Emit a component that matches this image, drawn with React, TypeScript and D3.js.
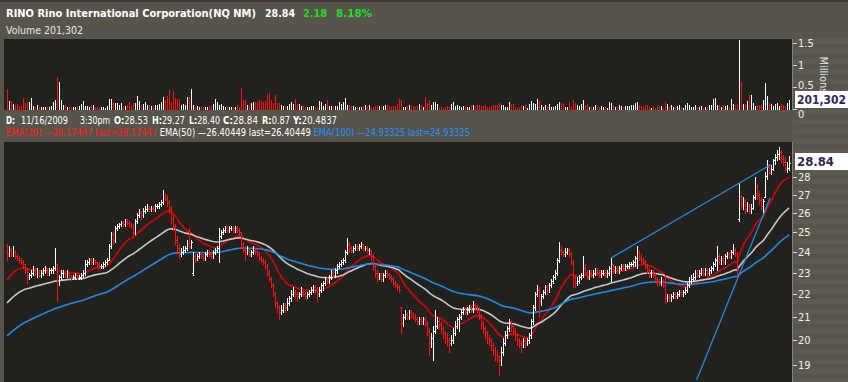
import React from 'react';
import * as d3 from 'd3';

// ---------------- DATA (30-minute bars) ----------------
// each line after the first = one trading day (13 bars)
const opens = [
  24.0, 23.9,
  24.1,23.9,24.0,23.8,23.7,23.6,23.5,23.4,23.1,22.8,22.9,23.0,23.1,
  23.0,23.0,22.9,23.0,23.1,23.2,23.0,23.1,23.1,23.2,23.4,22.6,22.8,
  23.0,23.0,22.9,23.0,22.9,22.8,22.8,22.9,22.8,22.8,22.9,23.0,23.4,
  23.5,23.6,23.5,23.6,23.5,23.4,23.3,23.3,23.4,23.5,23.6,24.3,24.9,
  24.6,25.2,25.3,25.4,25.5,25.4,25.6,25.5,25.4,25.3,25.0,25.6,25.9,
  26.0,25.9,26.1,26.2,26.3,26.2,26.3,26.2,26.4,26.4,26.5,26.6,26.9,
  26.8,26.6,26.2,25.7,25.3,24.6,24.2,23.9,24.0,24.1,24.2,24.4,24.3,
  23.0,23.8,23.7,23.8,23.9,23.8,23.7,23.9,24.0,23.9,23.8,24.0,24.1,
  24.2,24.8,25.0,25.1,25.2,25.1,25.2,25.2,25.1,25.2,25.1,25.0,24.4,
  24.1,24.0,24.1,23.9,24.0,24.1,24.0,23.9,23.7,23.6,23.5,23.3,23.0,
  22.7,22.4,22.0,21.6,21.4,21.2,21.3,21.5,21.4,21.6,21.8,22.0,22.1,
  22.0,21.9,22.0,22.1,22.0,21.9,22.0,22.1,22.2,22.3,22.2,22.0,22.2,
  22.4,22.5,22.7,22.6,22.8,23.0,22.9,23.1,23.3,23.4,23.5,23.6,24.0,
  24.4,24.2,24.1,24.2,24.3,24.2,24.3,24.4,24.2,24.2,24.1,24.1,23.8,
  23.3,23.0,22.8,22.9,22.7,22.9,23.0,22.9,22.8,22.7,22.5,22.4,22.3,
  21.4,20.7,21.0,21.1,21.0,21.2,21.1,21.0,20.9,20.8,20.9,20.8,20.9,
  20.7,20.4,19.9,20.1,20.4,20.6,20.8,20.7,20.5,20.3,20.1,20.0,19.9,
  20.0,20.3,20.6,20.9,21.0,21.2,21.3,21.2,21.3,21.4,21.3,21.5,21.4,
  21.3,21.0,20.7,20.5,20.3,20.1,20.0,19.8,19.6,19.4,19.3,19.2,19.5,
  19.9,20.2,20.5,20.7,20.6,20.4,20.2,20.0,19.9,19.8,20.0,19.9,20.0,
  20.2,20.8,21.4,22.0,22.2,21.7,21.9,22.1,22.3,22.2,22.4,22.6,22.8,
  23.0,23.6,24.1,24.0,23.9,24.0,24.1,23.9,23.5,22.8,22.5,22.6,22.8,
  22.9,23.2,23.0,22.8,23.0,22.9,23.0,23.1,23.0,22.9,23.0,23.0,22.9,
  23.0,23.2,23.4,23.1,23.2,23.1,23.2,23.3,23.2,23.3,23.3,23.4,23.4,
  23.5,23.7,24.0,23.7,23.6,23.5,23.3,23.1,22.9,23.0,22.9,22.7,22.6,
  22.5,22.6,22.4,21.8,21.9,21.8,21.9,22.0,21.9,22.0,22.1,22.0,22.1,
  22.2,22.4,22.6,22.7,22.8,23.0,22.9,23.0,23.1,23.0,23.1,23.0,23.1,
  23.2,23.4,23.6,23.8,23.6,23.7,23.5,23.8,23.9,23.8,24.0,24.1,23.9,
  25.7,26.9,26.5,26.7,26.2,26.4,26.1,26.3,26.9,27.5,27.0,26.7,26.4,
  26.9,28.1,28.6,28.3,28.5,29.0,29.2,29.4,29.5,29.1,28.9,28.5,28.53,
];

const highs = [
  24.4, 24.3,
  24.2,24.3,24.1,23.9,23.8,23.7,23.6,23.4,23.2,23.0,23.1,23.3,23.2,
  23.2,23.1,23.1,23.2,23.3,23.2,23.2,23.2,23.3,24.2,23.4,22.9,23.1,
  23.1,23.0,23.1,23.0,22.9,22.9,23.0,22.9,22.9,23.0,23.1,23.6,23.6,
  23.7,23.7,23.7,23.6,23.5,23.5,23.4,23.5,23.6,23.7,24.4,25.0,25.0,
  25.3,25.4,25.5,25.6,25.6,25.7,25.7,25.6,25.5,25.4,25.7,26.0,26.2,
  26.1,26.3,26.4,26.5,26.4,26.4,26.4,26.5,26.5,26.6,26.7,27.3,27.1,
  27.0,26.7,26.4,25.9,25.4,24.8,24.4,24.2,24.3,24.3,24.6,25.2,24.6,
  24.0,23.9,23.9,24.0,24.0,23.9,24.0,24.1,24.1,24.0,24.1,24.2,24.3,
  25.2,25.1,25.2,25.3,25.3,25.3,25.3,25.3,25.3,25.3,25.2,25.0,24.5,
  24.3,24.3,24.2,24.1,24.3,24.2,24.1,24.0,23.8,23.7,23.6,23.4,23.1,
  22.8,22.5,22.1,21.7,21.5,21.5,21.6,21.6,21.8,21.9,22.2,22.3,22.2,
  22.1,22.1,22.3,22.2,22.1,22.1,22.2,22.3,22.4,22.4,22.3,22.3,22.5,
  22.6,22.8,22.8,22.9,23.1,23.1,23.2,23.4,23.5,23.6,23.7,24.1,24.7,
  24.5,24.3,24.3,24.4,24.4,24.4,24.5,24.4,24.3,24.3,24.2,24.1,23.9,
  23.4,23.1,23.0,23.0,23.0,23.1,23.1,23.0,22.9,22.8,22.6,22.5,22.4,
  21.4,21.1,21.3,21.2,21.3,21.3,21.2,21.1,21.0,21.0,21.0,21.0,21.0,
  20.8,20.5,20.3,20.6,21.3,21.0,20.9,20.8,20.6,20.4,20.3,20.1,20.2,
  20.5,20.8,21.0,21.1,21.3,21.4,21.4,21.4,21.5,21.5,21.7,21.6,21.5,
  21.4,21.1,20.8,20.6,20.4,20.2,20.1,19.9,19.7,19.6,19.4,19.7,20.1,
  20.4,20.6,20.9,20.8,20.7,20.5,20.3,20.1,20.0,20.1,20.1,20.1,20.3,
  20.9,21.5,22.1,22.4,22.3,22.0,22.2,22.4,22.4,22.5,22.7,22.9,23.1,
  23.7,24.5,24.3,24.1,24.2,24.2,24.2,24.0,23.6,22.9,22.8,22.9,23.0,
  23.8,23.4,23.1,23.1,23.1,23.1,23.2,23.2,23.1,23.1,23.1,23.1,23.1,
  23.3,23.7,23.4,23.3,23.3,23.3,23.4,23.4,23.4,23.4,23.5,23.5,23.6,
  23.8,24.3,24.1,23.9,23.7,23.6,23.4,23.2,23.1,23.1,23.0,22.8,22.7,
  22.8,22.7,22.9,22.0,22.0,22.0,22.1,22.1,22.1,22.2,22.2,22.2,22.3,
  22.5,22.8,22.9,23.0,23.1,23.1,23.1,23.2,23.2,23.2,23.2,23.2,23.3,
  23.5,23.7,24.3,23.9,23.8,23.8,23.9,24.0,24.0,24.1,24.4,24.2,24.0,
  27.7,27.0,26.9,26.8,26.6,26.5,26.5,27.0,28.0,27.6,27.2,26.9,26.8,
  28.3,29.0,28.8,28.7,29.1,29.4,29.6,29.8,29.6,29.3,29.2,28.9,29.27,
];

const lows = [
  23.6, 23.8,
  23.8,23.8,23.7,23.6,23.5,23.4,23.2,23.0,22.5,22.7,22.8,22.9,22.9,
  22.8,22.8,22.8,22.9,23.0,22.9,22.9,23.0,23.0,23.1,21.7,22.4,22.7,
  22.8,22.8,22.8,22.8,22.7,22.7,22.7,22.7,22.7,22.7,22.8,22.9,23.3,
  23.4,23.4,23.4,23.4,23.3,23.2,23.2,23.2,23.3,23.4,23.6,24.2,24.4,
  24.5,25.1,25.2,25.3,25.3,25.3,25.4,25.3,25.2,24.8,24.9,25.5,25.8,
  25.7,25.8,26.0,26.1,26.1,26.1,26.1,26.1,26.3,26.3,26.4,26.5,26.7,
  26.4,26.0,25.5,25.1,24.4,24.0,23.7,23.8,23.9,24.0,24.1,24.2,24.2,
  22.9,23.5,23.6,23.7,23.7,23.6,23.6,23.8,23.8,23.7,23.7,23.9,24.0,
  23.5,24.7,24.9,25.0,25.0,25.0,25.1,25.0,25.0,25.0,24.9,24.2,24.0,
  23.6,23.9,23.8,23.8,23.9,23.9,23.8,23.6,23.5,23.4,23.2,22.9,22.6,
  22.3,21.9,21.4,21.2,20.9,21.1,21.2,21.2,21.3,21.5,21.7,21.9,21.8,
  21.7,21.8,21.9,21.9,21.8,21.8,21.9,22.0,22.1,22.1,21.7,21.9,22.1,
  22.2,22.4,22.5,22.5,22.7,22.8,22.8,23.0,23.2,23.3,23.4,23.5,23.9,
  24.0,24.0,24.0,24.1,24.1,24.1,24.2,24.1,24.1,24.0,23.9,23.6,23.1,
  22.8,22.6,22.7,22.6,22.6,22.8,22.8,22.7,22.6,22.4,22.3,22.2,22.1,
  20.3,20.6,20.9,20.9,20.9,21.0,20.9,20.8,20.7,20.7,20.7,20.7,20.6,
  20.2,19.4,19.7,19.2,20.3,20.5,20.5,20.3,20.1,19.9,19.8,19.5,19.8,
  19.9,20.2,20.5,20.4,20.9,21.1,21.1,21.1,21.2,21.2,21.2,21.3,21.2,
  20.9,20.5,20.3,20.1,19.9,19.8,19.6,19.4,19.2,19.1,18.6,19.0,19.4,
  19.8,20.1,20.4,20.4,20.2,20.0,19.8,19.7,19.5,19.7,19.7,19.8,19.9,
  20.1,20.7,21.3,21.9,21.0,21.5,21.8,22.0,22.0,22.1,22.3,22.5,22.7,
  22.9,23.5,23.9,23.8,23.8,23.9,23.8,23.4,22.3,22.3,22.4,22.5,22.7,
  22.8,22.9,22.7,22.7,22.8,22.8,22.9,22.9,22.8,22.8,22.9,22.8,22.8,
  22.9,22.6,23.0,23.0,23.0,23.0,23.1,23.1,23.1,23.2,23.2,23.3,23.3,
  23.3,23.2,23.6,23.5,23.4,23.2,23.0,22.8,22.8,22.8,22.6,22.4,22.4,
  22.4,22.3,21.6,21.7,21.7,21.7,21.8,21.8,21.8,21.9,21.9,21.9,22.0,
  22.1,22.3,22.5,22.6,22.7,22.8,22.8,22.9,22.9,22.9,22.9,22.9,23.0,
  23.1,23.3,23.1,23.4,23.4,23.4,23.4,23.7,23.7,23.7,23.9,23.8,22.9,
  25.6,26.3,26.2,26.0,26.1,26.0,26.0,26.2,26.8,26.8,26.5,26.2,26.0,
  26.9,27.9,28.2,28.2,28.4,28.8,29.0,29.1,28.9,28.7,28.4,28.3,28.40,
];

const closes = [
  23.9, 24.1,
  23.9,24.0,23.8,23.7,23.6,23.5,23.4,23.1,22.8,22.9,23.0,23.1,23.0,
  23.0,22.9,23.0,23.1,23.2,23.0,23.1,23.1,23.2,23.4,22.6,22.8,23.0,
  23.0,22.9,23.0,22.9,22.8,22.8,22.9,22.8,22.8,22.9,23.0,23.4,23.5,
  23.6,23.5,23.6,23.5,23.4,23.3,23.3,23.4,23.5,23.6,24.3,24.9,24.6,
  25.2,25.3,25.4,25.5,25.4,25.6,25.5,25.4,25.3,25.0,25.6,25.9,26.0,
  25.9,26.1,26.2,26.3,26.2,26.3,26.2,26.4,26.4,26.5,26.6,26.9,26.8,
  26.6,26.2,25.7,25.3,24.6,24.2,23.9,24.0,24.1,24.2,24.4,24.3,24.5,
  23.8,23.7,23.8,23.9,23.8,23.7,23.9,24.0,23.9,23.8,24.0,24.1,24.2,
  24.8,25.0,25.1,25.2,25.1,25.2,25.2,25.1,25.2,25.1,25.0,24.4,24.1,
  24.0,24.1,23.9,24.0,24.1,24.0,23.9,23.7,23.6,23.5,23.3,23.0,22.7,
  22.4,22.0,21.6,21.4,21.2,21.3,21.5,21.4,21.6,21.8,22.0,22.1,22.0,
  21.9,22.0,22.1,22.0,21.9,22.0,22.1,22.2,22.3,22.2,22.0,22.2,22.4,
  22.5,22.7,22.6,22.8,23.0,22.9,23.1,23.3,23.4,23.5,23.6,24.0,24.4,
  24.2,24.1,24.2,24.3,24.2,24.3,24.4,24.2,24.2,24.1,24.1,23.8,23.3,
  23.0,22.8,22.9,22.7,22.9,23.0,22.9,22.8,22.7,22.5,22.4,22.3,22.2,
  20.7,21.0,21.1,21.0,21.2,21.1,21.0,20.9,20.8,20.9,20.8,20.9,20.7,
  20.4,19.9,20.1,20.4,20.6,20.8,20.7,20.5,20.3,20.1,20.0,19.9,20.0,
  20.3,20.6,20.9,21.0,21.2,21.3,21.2,21.3,21.4,21.3,21.5,21.4,21.3,
  21.0,20.7,20.5,20.3,20.1,20.0,19.8,19.6,19.4,19.3,19.2,19.5,19.9,
  20.2,20.5,20.7,20.6,20.4,20.2,20.0,19.9,19.8,20.0,19.9,20.0,20.2,
  20.8,21.4,22.0,22.2,21.7,21.9,22.1,22.3,22.2,22.4,22.6,22.8,23.0,
  23.6,24.1,24.0,23.9,24.0,24.1,23.9,23.5,22.8,22.5,22.6,22.8,22.9,
  23.2,23.0,22.8,23.0,22.9,23.0,23.1,23.0,22.9,23.0,23.0,22.9,23.0,
  23.2,23.4,23.1,23.2,23.1,23.2,23.3,23.2,23.3,23.3,23.4,23.4,23.5,
  23.7,24.0,23.7,23.6,23.5,23.3,23.1,22.9,23.0,22.9,22.7,22.6,22.5,
  22.6,22.4,21.8,21.9,21.8,21.9,22.0,21.9,22.0,22.1,22.0,22.1,22.2,
  22.4,22.6,22.7,22.8,23.0,22.9,23.0,23.1,23.0,23.1,23.0,23.1,23.2,
  23.4,23.6,23.8,23.6,23.7,23.5,23.8,23.9,23.8,24.0,24.1,23.9,23.1,
  26.9,26.5,26.7,26.2,26.4,26.1,26.3,26.9,27.5,27.0,26.7,26.4,26.66,
  28.1,28.6,28.3,28.5,29.0,29.2,29.4,29.5,29.1,28.9,28.5,28.53,28.84,
];

// volume, millions of shares
const volumes = [
  .46,.18,
  .19,.11,.09,.11,.07,.07,.25,.13,.15,.15,.25,.07,.05,
  .09,.05,.05,.05,.05,.05,.05,.07,.15,.20,.74,.61,.20,
  .09,.09,.05,.05,.05,.05,.05,.07,.07,.11,.18,.07,.07,
  .05,.09,.09,.05,.05,.03,.05,.05,.03,.07,.23,.23,.15,
  .13,.13,.09,.13,.07,.07,.09,.17,.07,.13,.13,.30,.18,
  .09,.11,.17,.09,.09,.07,.07,.09,.09,.11,.17,.28,.20,
  .30,.43,.15,.40,.24,.23,.22,.09,.11,.09,.28,.28,.46,
  .09,.05,.07,.05,.05,.04,.05,.05,.07,.07,.11,.23,.15,
  .09,.11,.07,.05,.05,.05,.05,.05,.04,.09,.04,.49,.20,
  .20,.09,.09,.13,.15,.17,.17,.20,.19,.15,.19,.32,.37,
  .20,.13,.32,.13,.13,.09,.07,.07,.07,.11,.15,.11,.23,
  .11,.11,.07,.07,.04,.05,.05,.07,.07,.05,.05,.18,.17,
  .07,.11,.20,.07,.07,.05,.07,.07,.17,.11,.17,.26,.09,
  .09,.07,.07,.04,.05,.05,.04,.07,.09,.07,.09,.05,.05,
  .07,.07,.07,.04,.07,.09,.09,.07,.05,.07,.07,.11,.22,
  .20,.05,.05,.07,.09,.07,.07,.05,.07,.12,.08,.05,.28,
  .13,.20,.09,.17,.15,.12,.05,.04,.03,.05,.07,.05,.11,
  .17,.07,.08,.06,.05,.07,.07,.04,.05,.09,.08,.07,.08,
  .10,.07,.06,.10,.05,.04,.07,.09,.09,.08,.13,.10,.10,
  .05,.04,.15,.11,.11,.05,.03,.04,.09,.07,.08,.03,.11,
  .18,.13,.11,.23,.19,.08,.05,.09,.07,.11,.05,.04,.07,
  .11,.17,.14,.12,.05,.04,.16,.05,.20,.13,.08,.07,.11,
  .21,.09,.11,.05,.04,.04,.09,.05,.04,.06,.04,.05,.03,
  .15,.13,.09,.05,.05,.09,.07,.04,.07,.07,.06,.08,.09,
  .13,.17,.08,.06,.05,.10,.08,.05,.03,.06,.03,.04,.05,
  .07,.03,.16,.11,.07,.09,.04,.05,.07,.08,.05,.03,.09,
  .13,.09,.04,.04,.09,.04,.05,.06,.03,.04,.04,.09,.09,
  .23,.24,.10,.10,.05,.08,.07,.10,.05,.23,.12,.09,.12,
  1.58,.62,.12,.12,.18,.32,.33,.14,.07,.08,.08,.10,.20,
  .60,.29,.14,.12,.07,.12,.13,.07,.11,.09,.06,.13,.201302,
];

const priceTicks = [19, 20, 21, 22, 23, 24, 25, 26, 27, 28];
const volumeTicks = [0, 0.5, 1, 1.5];
const volumeTickLabels = ['0', '0.5', '1', '1.5'];

// EMA periods and the value each average had before the first visible bar
const emaPeriods = [20, 50, 100];
const emaSeeds = [22.5, 21.5, 20.1];
const emaLegend = [
  'EMA(20) —28.17447 last=28.17447 ',
  'EMA(50) —26.40449 last=26.40449 ',
  'EMA(100) —24.93325 last=24.93325',
];

// hand-drawn trend lines: [bar index, price] endpoints
const trendLineA = [[302, 23.7], [382, 28.75]];
const trendLineB = [[344.8, 18.42], [381.5, 26.81]];

const lastPrice = '28.84';
const lastVolume = '201,302';

// ---------------- STYLE / LAYOUT ----------------
const W = 848, H = 382;
const FONT = '"DejaVu Sans Condensed", "DejaVu Sans", Verdana, sans-serif';
const BG = '#57544b';
const PLOT_BG = '#23211e';
const WHITE = '#ffffff';
const RED = '#ff1010';
const EMA_COLORS = ['#d60000', '#c9c9c9', '#1b8ae6'];
const LEGEND_COLORS = ['#ff1a1a', '#ffffff', '#1e90ff'];
const GREEN = '#22dd22';

const PX0 = 4, PX1 = 792;           // plot x extent
const VY0 = 39, VY1 = 110;          // volume panel
const PY0 = 142, PY1 = 382;         // price panel

function ema(values, period, seed) {
  const k = 2 / (period + 1);
  let e = seed;
  return values.map((v) => { e = e + k * (v - e); return e; });
}

function T({ x, y, w, fill, size = 10, weight = 'normal', children, anchor = 'start' }) {
  return (
    <text x={x} y={y} fill={fill} fontSize={size} fontWeight={weight} fontFamily={FONT}
      textAnchor={anchor}
      {...(w ? { textLength: w, lengthAdjust: 'spacingAndGlyphs' } : {})}>{children}</text>
  );
}

export default function App() {
  const n = Math.min(opens.length, highs.length, lows.length, closes.length, volumes.length);
  const xs = d3.scaleLinear().domain([0, n - 1]).range([7, 789]);
  const yP = d3.scaleLog().domain([28, 19]).range([177.3, 365]);
  const yV = d3.scaleLinear().domain([0, 1.5]).range([109, 43.3]);

  let whitePath = '', redPath = '', whiteVol = '', redVol = '';
  for (let i = 0; i < n; i++) {
    const x = Math.round(xs(i));
    const o = opens[i], c = closes[i];
    const h = Math.max(highs[i], o, c), l = Math.min(lows[i], o, c);
    const yh = Math.round(yP(h)), yl = Math.round(yP(l));
    const yo = Math.round(yP(o)), yc = Math.round(yP(c));
    const seg = `M${x + 0.5},${yh}V${Math.max(yl + 1, yh + 1)}M${x - 1},${yo + 0.5}H${x}M${x + 1},${yc + 0.5}H${x + 2}`;
    const vy = Math.round(yV(volumes[i]));
    const vseg = `M${x + 0.5},${Math.min(vy, 108)}V110`;
    if (c >= o) { whitePath += seg; whiteVol += vseg; } else { redPath += seg; redVol += vseg; }
  }

  const emaLines = emaPeriods.map((p, k) => {
    const vals = ema(closes.slice(0, n), p, emaSeeds[k]);
    return d3.line().x((_, i) => xs(i)).y((v) => yP(v))(vals);
  });

  const tl = (pts) => d3.line().x((p) => xs(p[0])).y((p) => yP(p[1]))(pts);

  const stripes = [];
  for (let y = VY0; y < H; y += 10) stripes.push(y);

  const volLabelY = (v) => (v === 0 ? 118 : v === 0.5 ? 88.5 : yV(v) + 4);

  return (
    <svg width={W} height={H} style={{ position: 'absolute', left: 0, top: 0, display: 'block' }}>
      <defs>
        <clipPath id="pclip"><rect x={PX0} y={PY0} width={PX1 - PX0} height={PY1 - PY0} /></clipPath>
        <clipPath id="vclip"><rect x={PX0} y={VY0} width={PX1 - PX0} height={VY1 - VY0} /></clipPath>
      </defs>
      <rect x={0} y={0} width={W} height={H} fill={BG} />
      <rect x={0} y={0} width={W} height={2} fill="#3d3b36" />
      {/* axis column stripes */}
      {stripes.map((y) => (
        <rect key={y} x={PX1 + 1} y={y} width={W - PX1 - 1} height={5} fill="#5d5a51" />
      ))}

      {/* header */}
      <T x={6} y={16.5} w={250} fill={WHITE} size={11} weight="bold">RINO Rino International Corporation(NQ NM)</T>
      <T x={265} y={16.5} w={30} fill={WHITE} size={11} weight="bold">28.84</T>
      <T x={303} y={16.5} w={24} fill={GREEN} size={11} weight="bold">2.18</T>
      <T x={336} y={16.5} w={36} fill={GREEN} size={11} weight="bold">8.18%</T>
      <T x={6} y={34} w={77} fill="#e6e6e6" size={11}>Volume 201,302</T>

      {/* volume panel */}
      <rect x={PX0} y={VY0} width={PX1 - PX0} height={VY1 - VY0} fill={PLOT_BG} />
      <g clipPath="url(#vclip)" shapeRendering="crispEdges">
        <path d={whiteVol} stroke={WHITE} strokeWidth={1} fill="none" />
        <path d={redVol} stroke={RED} strokeWidth={1} fill="none" />
      </g>
      <line x1={PX1 + 0.5} x2={PX1 + 0.5} y1={VY0} y2={VY1} stroke="#85827a" shapeRendering="crispEdges" />
      {volumeTicks.map((v, k) => (
        <g key={v}>
          <line x1={PX1 + 1} x2={PX1 + 5} y1={Math.round(yV(v)) + 0.5} y2={Math.round(yV(v)) + 0.5} stroke="#d8d8d8" shapeRendering="crispEdges" />
          <T x={798} y={volLabelY(v)} fill="#eeeeee" size={11}>{volumeTickLabels[k]}</T>
        </g>
      ))}
      <text transform="translate(820,75) rotate(90)" textAnchor="middle" fill="#e6e6e6" fontSize={11} fontFamily={FONT}>Millions</text>
      <rect x={795} y={91} width={53} height={17} fill="#ffffff" />
      <T x={797} y={104} w={49} fill="#2c2a55" size={12} weight="bold">{lastVolume}</T>

      {/* legend rows */}
      <T x={6} y={124} w={9} fill={WHITE} size={10} weight="bold">D:</T>
      <T x={21} y={124} w={47} fill={WHITE} size={10}>11/16/2009</T>
      <T x={80} y={124} w={30} fill={WHITE} size={10}>3:30pm</T>
      {[
        ['O:', '28.53', 114, 34], ['H:', '29.27', 152, 33], ['L:', '28.40', 189, 31],
        ['C:', '28.84', 223, 35], ['R:', '0.87', 262, 28], ['Y:', '20.4837', 293, 44],
      ].map(([lab, val, x, w]) => (
        <text key={lab} x={x} y={124} fill={WHITE} fontSize={10} fontFamily={FONT} textLength={w} lengthAdjust="spacingAndGlyphs">
          <tspan fontWeight="bold">{lab}</tspan>{val}
        </text>
      ))}
      <text x={6} y={135.5} fontSize={10} fontFamily={FONT} textLength={464} lengthAdjust="spacingAndGlyphs">
        {emaLegend.map((s, k) => (
          <tspan key={k} fill={LEGEND_COLORS[k]}>{s}</tspan>
        ))}
      </text>

      {/* price panel */}
      <rect x={PX0} y={PY0} width={PX1 - PX0} height={PY1 - PY0} fill={PLOT_BG} />
      <g clipPath="url(#pclip)">
        {emaLines.map((d, k) => (
          <path key={k} d={d} fill="none" stroke={EMA_COLORS[k]} strokeWidth={1.6} />
        ))}
        <g shapeRendering="crispEdges">
          <path d={whitePath} stroke={WHITE} strokeWidth={1} fill="none" />
          <path d={redPath} stroke={RED} strokeWidth={1} fill="none" />
        </g>
        <path d={tl(trendLineA)} stroke="#1f8fe8" strokeWidth={1.2} fill="none" />
        <path d={tl(trendLineB)} stroke="#1f8fe8" strokeWidth={1.2} fill="none" />
      </g>
      <line x1={PX1 + 0.5} x2={PX1 + 0.5} y1={PY0} y2={PY1} stroke="#85827a" shapeRendering="crispEdges" />
      {priceTicks.map((v) => (
        <g key={v}>
          <line x1={PX1 + 1} x2={PX1 + 5} y1={Math.round(yP(v)) + 0.5} y2={Math.round(yP(v)) + 0.5} stroke="#d8d8d8" shapeRendering="crispEdges" />
          <T x={798} y={yP(v) + 4} fill="#eeeeee" size={11}>{String(v)}</T>
        </g>
      ))}
      <rect x={795} y={153} width={53} height={17} fill="#ffffff" />
      <T x={797} y={166} w={37} fill="#2c2a55" size={12} weight="bold">{lastPrice}</T>
    </svg>
  );
}
